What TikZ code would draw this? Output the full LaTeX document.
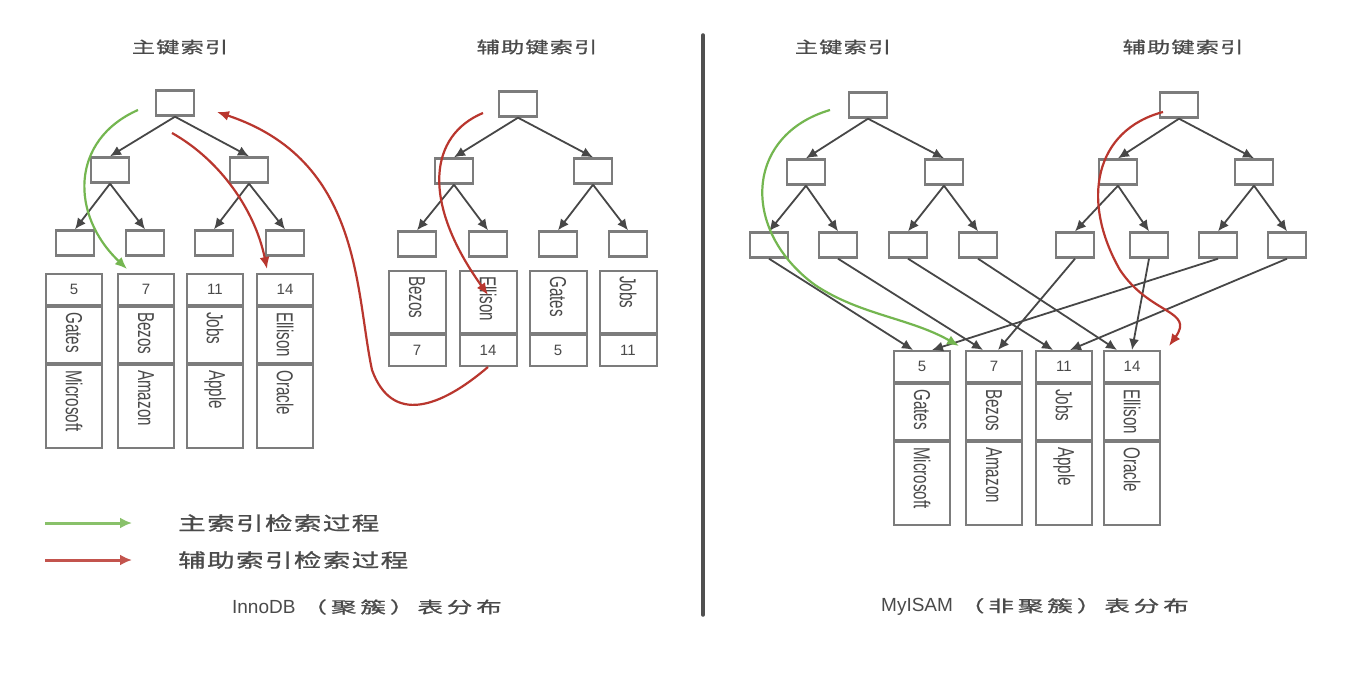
\documentclass[tikz,border=0pt]{standalone}
\usepackage{fontspec}
\setmainfont{Liberation Sans}
\newfontfamily\cjk[LetterSpace=5,FakeBold=0.8]{Noto Sans CJK SC}
\newfontfamily\cjkc[LetterSpace=15,FakeBold=0.8]{Noto Sans CJK SC}
\usetikzlibrary{arrows.meta,calc}
\definecolor{boxgray}{HTML}{7C7C7C}
\definecolor{arrgray}{HTML}{474747}
\definecolor{grn}{HTML}{74B650}
\definecolor{rd}{HTML}{B9362E}
\definecolor{txtgray}{HTML}{4A4A4A}
\definecolor{divgray}{HTML}{505050}
\newcommand\vname[1]{\scalebox{0.66}[1]{\fontsize{23}{23}\selectfont #1}}
\newcommand\keytxt[1]{{\fontsize{15}{15}\selectfont #1}}
% record with key on top: id, x, ytop, key, name, company
\newcommand\recA[6]{%
  \node[cell,minimum height=31pt] (#1k) at (#2,#3) {\keytxt{#4}};
  \node[cell,minimum height=56pt] (#1n) at (#1k.south) {};
  \node[cell,minimum height=83pt] (#1c) at (#1n.south) {};
  \node[vtxt] (#1nt) at ($(#1n.north)+(0,6)$) {\vname{#5}};
  \node[vtxt] (#1ct) at ($(#1c.north)+(0,6)$) {\vname{#6}};
}
% record with name on top: id, x, ytop, name, key
\newcommand\recB[5]{%
  \node[cell,minimum width=57pt,minimum height=62pt] (#1n) at (#2,#3) {};
  \node[cell,minimum width=57pt,minimum height=31pt] (#1k) at (#1n.south) {\keytxt{#5}};
  \node[vtxt] (#1nt) at ($(#1n.north)+(0,6)$) {\vname{#4}};
}
% tree: prefix, root x, root y, level-2 xs, leaf xs
\newcommand\treeT[9]{%
  \node[tbox] (#1r) at (#2,#3) {};
  \node[tbox] (#1a) at (#4,#3+67) {};
  \node[tbox] (#1b) at (#5,#3+67) {};
  \node[tbox] (#11) at (#6,#3+140) {};
  \node[tbox] (#12) at (#7,#3+140) {};
  \node[tbox] (#13) at (#8,#3+140) {};
  \node[tbox] (#14) at (#9,#3+140) {};
  \draw[tarr] (#1r.south) -- (#1a.north);
  \draw[tarr] (#1r.south) -- (#1b.north);
  \draw[tarr] (#1a.south) -- (#11.north);
  \draw[tarr] (#1a.south) -- (#12.north);
  \draw[tarr] (#1b.south) -- (#13.north);
  \draw[tarr] (#1b.south) -- (#14.north);
}
\newcommand\ttl[1]{\scalebox{1.45}[1]{\fontsize{16}{16}\cjk #1}}
\newcommand\capc[1]{\scalebox{1.6}[1]{\fontsize{16}{16}\cjkc #1}}
\begin{document}
\begin{tikzpicture}[x=1pt,y=-1pt,
  tbox/.style={draw=boxgray,line width=2.4pt,minimum width=38pt,minimum height=25pt,inner sep=0pt,fill=white},
  tarr/.style={draw=arrgray,line width=1.8pt,-{Latex[length=11pt,width=10pt]}},
  cell/.style={draw=boxgray,line width=2pt,minimum width=56pt,inner sep=0pt,anchor=north,text=txtgray},
  vtxt/.style={rotate=-90,anchor=west,inner sep=0pt,text=txtgray},
  gpath/.style={draw=grn,line width=2.2pt,-{Latex[length=12pt,width=10pt]}},
  rpath/.style={draw=rd,line width=2.2pt,-{Latex[length=12pt,width=10pt]}},
  title/.style={text=txtgray,inner sep=0pt},
]
\fill[white] (0,0) rectangle (1354,676);
\path[use as bounding box] (0,0) rectangle (1354,676);

% ---------- InnoDB ----------
\node[title] (t1) at (180,47) {\ttl{主键索引}};
\node[title] (t2) at (537,47) {\ttl{辅助键索引}};

\treeT{ip}{175}{103}{110}{249}{75}{145}{214}{285}
\treeT{is}{518}{104}{454}{593}{417}{488}{558}{628}

\recA{a5}{74}{273}{5}{Gates}{Microsoft}
\recA{a7}{146}{273}{7}{Bezos}{Amazon}
\recA{a11}{215}{273}{11}{Jobs}{Apple}
\recA{a14}{285}{273}{14}{Ellison}{Oracle}

\recB{b7}{417}{270}{Bezos}{7}
\recB{b14}{488}{270}{Ellison}{14}
\recB{b5}{558}{270}{Gates}{5}
\recB{b11}{628}{270}{Jobs}{11}

% search paths
\coordinate (g1s) at (138,110);
\draw[gpath] (g1s) .. controls (70,140) and (70,215) .. ($(a7k.north west)+(10,-4)$);
\coordinate (r1s) at (172,133);
\draw[rpath] (r1s) .. controls (220,160) and (255,210) .. ($(a14k.north west)+(11,-4)$);
\coordinate (r2s) at (483,113);
\draw[rpath] (r2s) .. controls (430,135) and (420,200) .. ($(b14n.north)+(0,25)$);
\coordinate (r3m) at (372,370);
\coordinate (r3e) at (217,112);
\draw[rpath] (b14k.south) .. controls (440,408) and (392,425) .. (r3m)
   .. controls (355,290) and (362,160) .. (r3e);

% legend
\coordinate (lg1a) at (45,523); \coordinate (lg1b) at (132,523);
\coordinate (lg2a) at (45,560); \coordinate (lg2b) at (132,560);
\draw[draw=grn!85!white,line width=3pt,-{Latex[length=12pt,width=11pt]}] (lg1a) -- (lg1b);
\draw[draw=rd!85!white,line width=3pt,-{Latex[length=12pt,width=11pt]}] (lg2a) -- (lg2b);
\node[title,anchor=west] (lt1) at (178,523) {\scalebox{1.45}[1]{\fontsize{19}{19}\cjk 主索引检索过程}};
\node[title,anchor=west] (lt2) at (178,560) {\scalebox{1.45}[1]{\fontsize{19}{19}\cjk 辅助索引检索过程}};

\node[title] (cap1) at (367,607) {\fontsize{19}{19}\selectfont InnoDB\hspace{6pt}\capc{（聚簇）}\hspace{2pt}\capc{表分布}};

% divider
\coordinate (dvt) at (703,35); \coordinate (dvb) at (703,615);
\draw[draw=divgray,line width=3.5pt,line cap=round] (dvt) -- (dvb);

% ---------- MyISAM ----------
\node[title] (t3) at (843,47) {\ttl{主键索引}};
\node[title] (t4) at (1183,47) {\ttl{辅助键索引}};

\treeT{mp}{868}{105}{806}{944}{769}{838}{908}{978}
\treeT{ms}{1179}{105}{1118}{1254}{1075}{1149}{1218}{1287}

\recA{m5}{922}{350}{5}{Gates}{Microsoft}
\recA{m7}{994}{350}{7}{Bezos}{Amazon}
\recA{m11}{1064}{350}{11}{Jobs}{Apple}
\recA{m14}{1132}{350}{14}{Ellison}{Oracle}

\draw[tarr] (mp1.south) -- ($(m5k.north)+(-9,0)$);
\draw[tarr] (ms3.south) -- ($(m5k.north)+(10,0)$);
\draw[tarr] (mp2.south) -- ($(m7k.north)+(-11,0)$);
\draw[tarr] (ms1.south) -- ($(m7k.north)+(4,0)$);
\draw[tarr] (mp3.south) -- ($(m11k.north)+(-11,0)$);
\draw[tarr] (ms4.south) -- ($(m11k.north)+(6,0)$);
\draw[tarr] (mp4.south) -- ($(m14k.north)+(-15,0)$);
\draw[tarr] (ms2.south) -- ($(m14k.north)+(0,0)$);

\coordinate (g2s) at (830,110);
\coordinate (g2m) at (815,285);
\draw[gpath] (g2s) .. controls (745,135) and (740,230) .. (g2m)
   .. controls (860,315) and (910,318) .. ($(m5k.north east)+(8,-4)$);
\coordinate (r4s) at (1163,112);
\coordinate (r4m) at (1120,270);
\draw[rpath] (r4s) .. controls (1095,130) and (1080,200) .. (r4m)
   .. controls (1150,315) and (1195,310) .. ($(m14k.north east)+(8,-4)$);

\node[title] (cap2) at (1035,607) {\fontsize{19}{19}\selectfont MyISAM\hspace{6pt}\capc{（非聚簇）}\hspace{2pt}\capc{表分布}};
\end{tikzpicture}
\end{document}
